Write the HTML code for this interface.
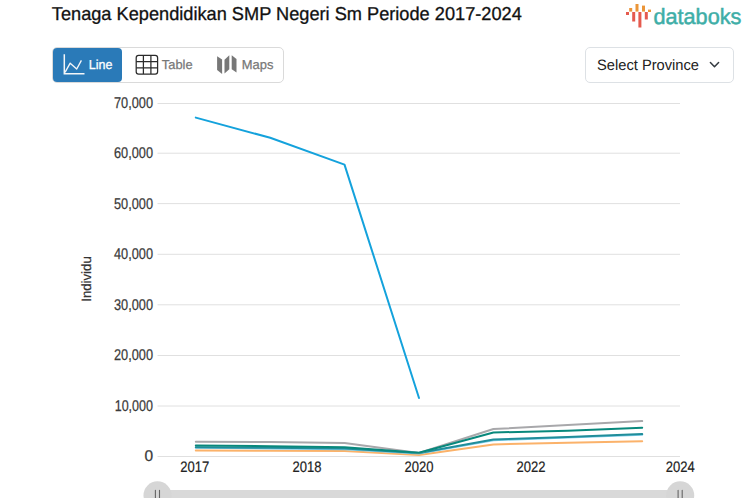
<!DOCTYPE html>
<html><head><meta charset="utf-8">
<style>
html,body{margin:0;padding:0;background:#fff;}
body{width:753px;height:498px;overflow:hidden;position:relative;font-family:"Liberation Sans",sans-serif;}
.abs{position:absolute;}
#grp{left:52px;top:47px;width:230px;height:34px;border:1px solid #dadada;border-radius:5px;box-sizing:content-box;}
#btnline{left:53px;top:48px;width:69px;height:34px;background:#2a7ab8;border-radius:4px;}
#sel{left:585px;top:47px;width:147px;height:34px;border:1px solid #dde1e5;border-radius:5px;}
</style></head>
<body>
<div id="grp" class="abs"></div>
<div id="btnline" class="abs"></div>
<div id="sel" class="abs"></div>
<svg class="abs" style="left:0;top:0" width="753" height="498" viewBox="0 0 753 498" font-family="Liberation Sans, sans-serif" text-rendering="geometricPrecision">
  <text x="51.8" y="19.7" font-size="18.7" fill="#111" stroke="#111" stroke-width="0.3" textLength="470" lengthAdjust="spacingAndGlyphs">Tenaga Kependidikan SMP Negeri Sm Periode 2017-2024</text>
  <!-- line icon -->
  <g fill="none" stroke="#f4f6f8" stroke-width="1.5">
    <path d="M64.3 54.3 V73.8 H84.5"/>
    <path d="M65 72.4 L70.2 63.2 L76.7 69 L81.4 60.4" stroke-width="1.35" stroke-linejoin="round"/>
  </g>
  <text x="88.8" y="68.8" font-size="13" fill="#fff" stroke="#fff" stroke-width="0.3" textLength="23.6" lengthAdjust="spacingAndGlyphs">Line</text>
  <!-- table icon -->
  <g fill="none" stroke="#2b2b2b" stroke-width="1.25">
    <rect x="136.2" y="55.3" width="21.4" height="18.8" rx="2.4"/>
    <path d="M143.4 55.3 V74.1 M150.9 55.3 V74.1 M136.2 61.5 H157.6 M136.2 67.9 H157.6"/>
  </g>
  <text x="161.8" y="68.9" font-size="13" fill="#777" stroke="#777" stroke-width="0.25" textLength="30.8" lengthAdjust="spacingAndGlyphs">Table</text>
  <!-- maps icon -->
  <g fill="#777">
    <path d="M217.1 56.2 L222.1 59.6 L222.1 74 L217.1 70 Z"/>
    <path d="M224.5 59.7 L229.3 55.3 L229.3 69.3 L224.5 73.5 Z"/>
    <path d="M231.7 55.3 L236.5 59.1 L236.5 72.5 L231.7 69.3 Z"/>
  </g>
  <text x="241.8" y="68.9" font-size="13" fill="#777" stroke="#777" stroke-width="0.25" textLength="31.6" lengthAdjust="spacingAndGlyphs">Maps</text>
  <!-- select province -->
  <text x="597" y="70" font-size="15" fill="#222" textLength="102" lengthAdjust="spacingAndGlyphs">Select Province</text>
  <path d="M710.4 62.5 L714.5 66.8 L718.6 62.5" fill="none" stroke="#343a40" stroke-width="1.5" stroke-linecap="round" stroke-linejoin="round"/>
  <!-- logo -->
  <g>
    <rect x="626" y="12" width="3" height="3" fill="#e55a4e"/>
    <rect x="629.2" y="8" width="3" height="3.6" fill="#eb9538"/>
    <rect x="632.2" y="12" width="3" height="9.5" fill="#e55a4e"/>
    <rect x="635.5" y="4" width="3" height="7.6" fill="#eb9538"/>
    <rect x="638.4" y="12" width="3" height="15.5" fill="#e55a4e"/>
    <rect x="642" y="5.6" width="3" height="6" fill="#eb9538"/>
    <rect x="644.8" y="12" width="3" height="7.5" fill="#e55a4e"/>
    <rect x="648" y="9.6" width="3" height="2.4" fill="#eb9538"/>
  </g>
  <text x="653.4" y="24" font-size="22" fill="#3eaea7" stroke="#3eaea7" stroke-width="0.5" textLength="88" lengthAdjust="spacingAndGlyphs">databoks</text>
  <!-- grid -->
  <g stroke="#e0e0e0" stroke-width="1">
    <path d="M157.5 456.5 H680 M157.5 406.0 H680 M157.5 355.5 H680 M157.5 304.8 H680 M157.5 254.3 H680 M157.5 203.6 H680 M157.5 153.2 H680 M157.5 103.5 H680"/>
  </g>
  <g font-size="15.5" fill="#3a3a3a" stroke="#3a3a3a" stroke-width="0.25" text-anchor="end">
    <text x="153" y="107.7" textLength="39" lengthAdjust="spacingAndGlyphs">70,000</text>
    <text x="153" y="158.1" textLength="39" lengthAdjust="spacingAndGlyphs">60,000</text>
    <text x="153" y="208.6" textLength="39" lengthAdjust="spacingAndGlyphs">50,000</text>
    <text x="153" y="259" textLength="39" lengthAdjust="spacingAndGlyphs">40,000</text>
    <text x="153" y="309.5" textLength="39" lengthAdjust="spacingAndGlyphs">30,000</text>
    <text x="153" y="359.9" textLength="39" lengthAdjust="spacingAndGlyphs">20,000</text>
    <text x="153" y="411.4" textLength="38.3" lengthAdjust="spacingAndGlyphs">10,000</text>
    <text x="153" y="461">0</text>
  </g>
  <g font-size="15.2" fill="#222" stroke="#222" stroke-width="0.2" text-anchor="middle">
    <text x="194.7" y="471.9" textLength="29" lengthAdjust="spacingAndGlyphs">2017</text>
    <text x="307" y="471.9" textLength="29" lengthAdjust="spacingAndGlyphs">2018</text>
    <text x="419" y="471.9" textLength="29" lengthAdjust="spacingAndGlyphs">2020</text>
    <text x="531" y="471.9" textLength="29" lengthAdjust="spacingAndGlyphs">2022</text>
    <text x="680.2" y="471.9" textLength="29" lengthAdjust="spacingAndGlyphs">2024</text>
  </g>
  <text transform="translate(91 279) rotate(-90)" font-size="13.5" fill="#333" stroke="#333" stroke-width="0.2" text-anchor="middle" textLength="45.5" lengthAdjust="spacingAndGlyphs">Individu</text>
  <!-- series -->
  <g fill="none" stroke-width="2" stroke-linejoin="round" stroke-linecap="round">
    <polyline stroke="#fbb26a" points="195.8,450.50 270.2,450.80 344.6,450.90 419,455.00 493.4,444.40 567.8,442.70 642.2,441.20"/>
    <polyline stroke="#7ccde9" points="195.8,447.80 270.2,448.40 344.6,449.20 419,453.40 493.4,440.20 567.8,437.60 642.2,434.70"/>
    <polyline stroke="#208d9a" points="195.8,447.20 270.2,447.80 344.6,448.60 419,453.00 493.4,439.60 567.8,437.00 642.2,434.10"/>
    <polyline stroke="#a8a8ab" points="195.8,441.80 270.2,442.00 344.6,443.00 419,453.00 493.4,429.00 567.8,425.10 642.2,421.10"/>
    <polyline stroke="#08887c" points="195.8,445.60 270.2,446.20 344.6,447.20 419,452.80 493.4,432.50 567.8,430.80 642.2,427.80"/>
    <polyline stroke="#14a2dc" points="195.8,117.6 270.2,137.8 344.5,164.6 419,398"/>
  </g>
  <!-- slider -->
  <rect x="157" y="490" width="523" height="10" fill="#d9d9d9"/>
  <circle cx="157.5" cy="495.3" r="14" fill="#d6d6d6"/>
  <circle cx="680.2" cy="495.3" r="14" fill="#d6d6d6"/>
  <g stroke="#666" stroke-width="1.1" stroke-linecap="round">
    <path d="M155.4 490.3 V499 M159.5 490.3 V499 M678.1 490.3 V499 M682.2 490.3 V499"/>
  </g>
</svg>
</body></html>
